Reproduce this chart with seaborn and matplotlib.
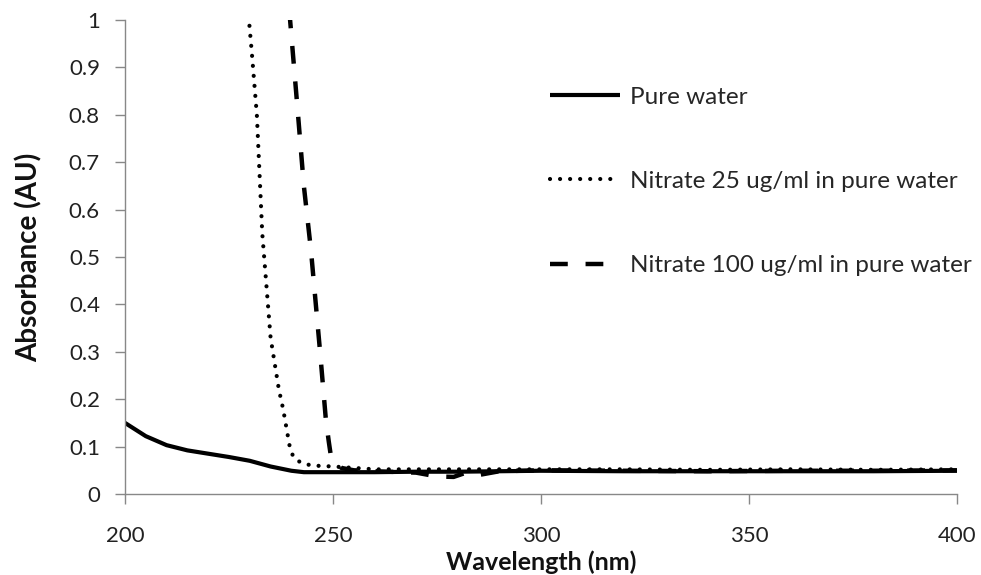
import matplotlib
matplotlib.use("Agg")
import matplotlib.pyplot as plt
import seaborn as sns
import pandas as pd
from matplotlib.lines import Line2D

sns.set_theme(style="white")
plt.rcParams['font.family'] = ['Lato', 'DejaVu Sans']

# Pure water
water_wl = [200, 205, 210, 215, 220, 225, 230, 235, 240, 243, 250, 260, 270, 280,
            290, 300, 320, 340, 360, 380, 400]
water_abs = [0.150, 0.122, 0.103, 0.092, 0.085, 0.078, 0.070, 0.058, 0.049, 0.046,
             0.046, 0.046, 0.047, 0.047, 0.048, 0.049, 0.048, 0.048, 0.048, 0.048, 0.049]

# Nitrate 25 ug/ml
n25_wl = [229.5, 230.5, 231.7, 233.0, 235.0, 237.0, 238.0, 239.7, 240.6, 242.5,
          245.0, 250.0, 255.0, 260.0, 280.0, 300.0, 320.0, 340.0, 360.0, 380.0, 400.0]
n25_abs = [1.03, 0.93, 0.80, 0.55, 0.33, 0.22, 0.18, 0.095, 0.076, 0.065,
           0.060, 0.058, 0.055, 0.052, 0.052, 0.052, 0.052, 0.051, 0.052, 0.051, 0.052]

# Nitrate 100 ug/ml
n100_wl = [239.5, 241.6, 243.0, 244.7, 246.9, 248.3, 249.0, 249.5, 250.0, 251.0,
           252.0, 255.0, 260.0, 270.0, 275.0, 279.0, 282.0, 285.0, 290.0, 300.0,
           320.0, 340.0, 360.0, 380.0, 400.0]
n100_abs = [1.02, 0.80, 0.65, 0.515, 0.30, 0.156, 0.11, 0.08, 0.075, 0.065,
            0.055, 0.050, 0.048, 0.045, 0.037, 0.036, 0.045, 0.040, 0.048, 0.050,
            0.049, 0.048, 0.049, 0.049, 0.050]

labels = ["Pure water", "Nitrate 25 ug/ml in pure water", "Nitrate 100 ug/ml in pure water"]

fig = plt.figure(figsize=(9.81, 5.75), dpi=100)
ax = fig.add_axes([0.1274, 0.1409, 0.8481, 0.8243])

styles = ['-', (0, (0.01, 2.4)), (0, (4.0, 4.0))]
lws = [3.0, 3.0, 3.2]
caps = ['butt', 'round', 'butt']
datasets = [(water_wl, water_abs), (n25_wl, n25_abs), (n100_wl, n100_abs)]
for (wl, ab), ls, lw, cap, lab in zip(datasets, styles, lws, caps, labels):
    df = pd.DataFrame({"wl": wl, "abs": ab})
    sns.lineplot(data=df, x="wl", y="abs", ax=ax, color="black", linewidth=lw,
                 linestyle=ls, solid_capstyle=cap, dash_capstyle=cap, legend=False)

ax.set_xlim(200, 400)
ax.set_ylim(0, 1)
ax.set_xticks([200, 250, 300, 350, 400])
ax.set_yticks([0, 0.1, 0.2, 0.3, 0.4, 0.5, 0.6, 0.7, 0.8, 0.9, 1.0])
ax.set_yticklabels(["0", "0.1", "0.2", "0.3", "0.4", "0.5", "0.6", "0.7", "0.8", "0.9", "1"])
ax.tick_params(axis='both', labelsize=16, labelcolor='#222222', length=7, width=1,
               direction='out', bottom=True, left=True, color='#888888')
ax.tick_params(axis='y', pad=11)
ax.tick_params(axis='x', pad=16)
for s in ['top', 'right']:
    ax.spines[s].set_visible(False)
for s in ['left', 'bottom']:
    ax.spines[s].set_color('#888888')
    ax.spines[s].set_linewidth(1)

ax.set_xlabel("Wavelength (nm)", fontsize=18, fontweight='bold', labelpad=3,
              color='#111111')
ax.set_ylabel("Absorbance (AU)", fontsize=20, fontweight='bold', labelpad=19,
              color='#111111')

handles = [Line2D([0], [0], color='black', lw=lw, linestyle=ls, solid_capstyle=cap,
                  dash_capstyle=cap) for ls, lw, cap in zip(styles, lws, caps)]
ax.legend(handles, labels, frameon=False, fontsize=17.5, loc='upper left',
          bbox_to_anchor=(540.0 / 981, 1 - 77.0 / 575), bbox_transform=fig.transFigure,
          borderaxespad=0, handlelength=2.9, handletextpad=0.42,
          labelspacing=2.6)

fig.savefig("out.png", dpi=100)
